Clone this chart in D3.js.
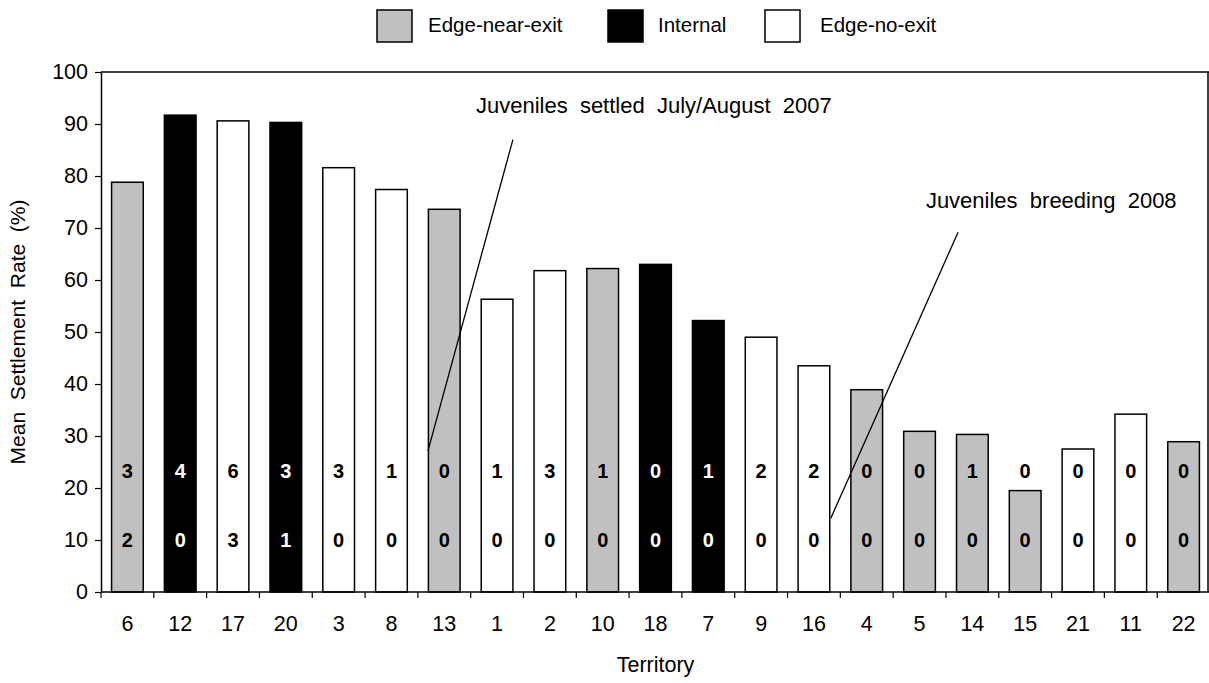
<!DOCTYPE html>
<html>
<head>
<meta charset="utf-8">
<script src="https://cdn.jsdelivr.net/npm/d3@7/dist/d3.min.js"></script>
<style>
  html, body { margin: 0; padding: 0; background: #fff; }
  svg { display: block; }
  text { font-family: "Liberation Sans", Arial, sans-serif; fill: #000; }
</style>
</head>
<body>
<svg id="chart" width="1209" height="683"></svg>
<script>
// ---- data ----
const territories = ["6","12","17","20","3","8","13","1","2","10","18","7","9","16","4","5","14","15","21","11","22"];
const territoryTypes = ["near","internal","noexit","internal","noexit","noexit","near","noexit","noexit","near","internal","internal","noexit","noexit","near","near","near","near","noexit","noexit","near"];
const settlementRates = [78.8, 91.7, 90.6, 90.3, 81.6, 77.4, 73.6, 56.3, 61.8, 62.2, 63.0, 52.2, 49.0, 43.5, 38.9, 30.9, 30.3, 19.5, 27.5, 34.2, 28.9];
const juvenilesSettled = [3,4,6,3,3,1,0,1,3,1,0,1,2,2,0,0,1,0,0,0,0];
const juvenilesBreeding = [2,0,3,1,0,0,0,0,0,0,0,0,0,0,0,0,0,0,0,0,0];
const yTicks = [0,10,20,30,40,50,60,70,80,90,100];
const legendKeys = ["near","internal","noexit"];
const legendLabels = ["Edge-near-exit","Internal","Edge-no-exit"];
// annotations: line from (band index, value) to (band index, value); text anchor
const annotations = [
  {label: "Juveniles  settled  July/August  2007", tx: 7.10, ty: 92.1, x1: 7.80, y1: 87.0, x2: 6.19, y2: 27.1},
  {label: "Juveniles  breeding  2008", tx: 15.62, ty: 73.8, x1: 16.23, y1: 69.2, x2: 13.82, y2: 14.2}
];

(function () {
const fills = {near: "#c0c0c0", internal: "#000000", noexit: "#ffffff"};
const labelColor = {near: "#000", internal: "#fff", noexit: "#000"};

const svg = d3.select("#chart");
const L = 101, R = 1210, T = 72, B = 592;

const x = d3.scaleBand().domain(territories).range([L, R]).paddingInner(0.4).paddingOuter(0.2);
const y = d3.scaleLinear().domain([0, 100]).range([B, T]);
const step = x.step();
const xPos = idx => L + idx * step;

const data = territories.map((t, i) => ({t, type: territoryTypes[i], v: settlementRates[i], s: juvenilesSettled[i], b: juvenilesBreeding[i]}));

// frame: top and right
svg.append("line").attr("x1", L).attr("x2", R).attr("y1", T).attr("y2", T)
  .attr("stroke", "#000").attr("stroke-width", 1.5);
svg.append("line").attr("x1", 1208).attr("x2", 1208).attr("y1", T).attr("y2", B)
  .attr("stroke", "#000").attr("stroke-width", 1.5);

// bars
svg.append("g").selectAll("rect").data(data).join("rect")
  .attr("x", d => x(d.t))
  .attr("y", d => y(d.v))
  .attr("width", x.bandwidth())
  .attr("height", d => y(0) - y(d.v))
  .attr("fill", d => fills[d.type])
  .attr("stroke", "#000")
  .attr("stroke-width", 1.5);

// bar labels
const lab = svg.append("g").attr("font-weight", "bold").attr("font-size", 20).attr("text-anchor", "middle");
lab.selectAll("text.s").data(data).join("text").attr("class", "s")
  .attr("x", d => x(d.t) + x.bandwidth() / 2)
  .attr("y", y(23.3))
  .attr("dy", "0.35em")
  .style("fill", d => labelColor[d.type])
  .text(d => d.s);
lab.selectAll("text.b").data(data).join("text").attr("class", "b")
  .attr("x", d => x(d.t) + x.bandwidth() / 2)
  .attr("y", y(10))
  .attr("dy", "0.35em")
  .style("fill", d => labelColor[d.type])
  .text(d => d.b);

// y axis
const yAxis = d3.axisLeft(y).tickValues(yTicks).tickSize(6).tickSizeOuter(0).tickPadding(7);
const gy = svg.append("g").attr("transform", `translate(${L},0)`).call(yAxis);
gy.select(".domain").attr("stroke-width", 1.5);
gy.selectAll(".tick line").attr("stroke-width", 1.2);
gy.selectAll("text").attr("font-size", 21.5).attr("font-family", "Liberation Sans, Arial, sans-serif");

// x axis with ticks at band boundaries
const gx = svg.append("g");
gx.append("line").attr("x1", L).attr("x2", R).attr("y1", B).attr("y2", B)
  .attr("stroke", "#000").attr("stroke-width", 1.5);
gx.selectAll("line.tk").data(d3.range(territories.length + 1)).join("line").attr("class", "tk")
  .attr("x1", i => xPos(i)).attr("x2", i => xPos(i))
  .attr("y1", B).attr("y2", B + 6)
  .attr("stroke", "#000").attr("stroke-width", 1.2);
gx.selectAll("text").data(territories).join("text")
  .attr("x", t => x(t) + x.bandwidth() / 2)
  .attr("y", 631)
  .attr("text-anchor", "middle")
  .attr("font-size", 21.5)
  .text(t => t);

// axis titles
svg.append("text").attr("x", (L + R) / 2).attr("y", 672).attr("text-anchor", "middle")
  .attr("font-size", 21.5).text("Territory");
svg.append("text").attr("transform", `translate(25,${(T + B) / 2}) rotate(-90)`)
  .attr("text-anchor", "middle").attr("font-size", 21).style("white-space", "pre")
  .text("Mean  Settlement  Rate  (%)");

// annotations
annotations.forEach(a => {
  svg.append("line")
    .attr("x1", xPos(a.x1)).attr("y1", y(a.y1))
    .attr("x2", xPos(a.x2)).attr("y2", y(a.y2))
    .attr("stroke", "#000").attr("stroke-width", 1.3);
  svg.append("text")
    .attr("x", xPos(a.tx)).attr("y", y(a.ty))
    .attr("font-size", 22).style("white-space", "pre")
    .text(a.label);
});

// legend
const legendBoxX = [377, 608, 765];
const legendTextX = [428, 658, 820];
const lg = svg.append("g");
legendKeys.forEach((k, i) => {
  lg.append("rect").attr("x", legendBoxX[i]).attr("y", 10).attr("width", 35).attr("height", 32)
    .attr("fill", fills[k]).attr("stroke", "#000").attr("stroke-width", 1.5);
  lg.append("text").attr("x", legendTextX[i]).attr("y", 32).attr("font-size", 20.5).text(legendLabels[i]);
});
})();
</script>
</body>
</html>
